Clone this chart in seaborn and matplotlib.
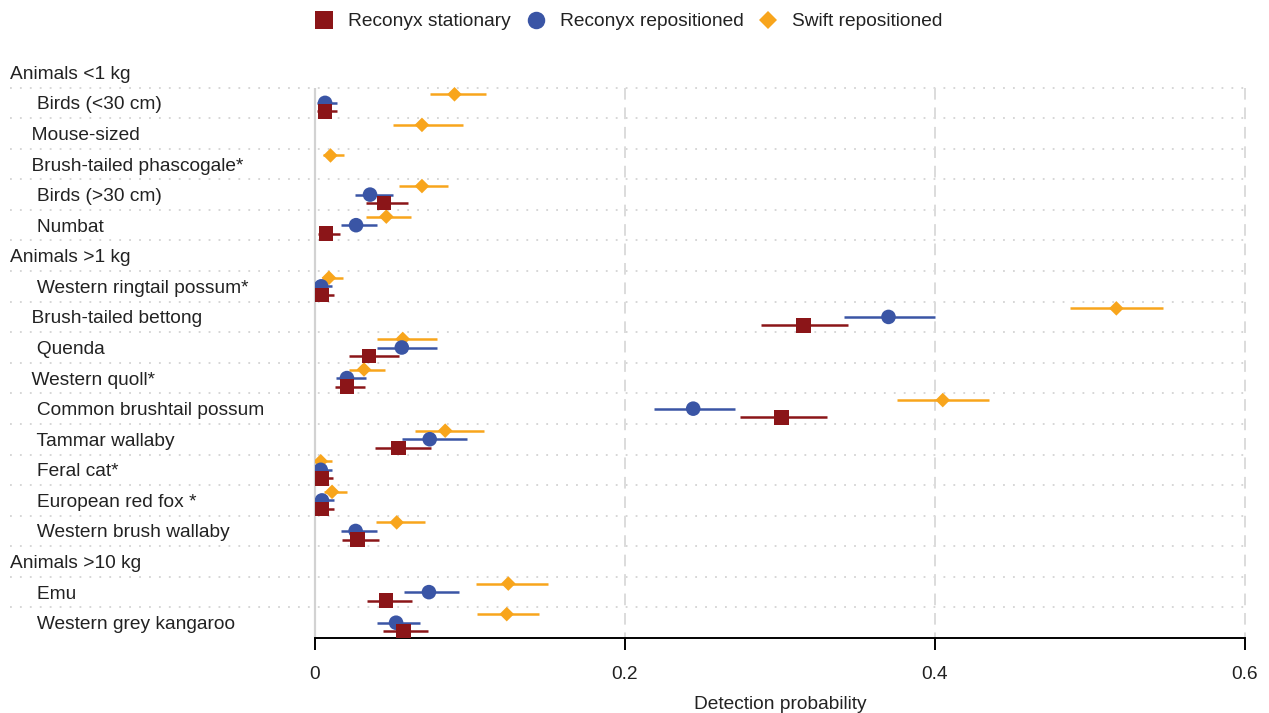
import numpy as np
import pandas as pd
import matplotlib
matplotlib.use("Agg")
import matplotlib.pyplot as plt
import seaborn as sns

# ---------------- data ----------------
row_labels = [
    "Animals <1 kg",
    "     Birds (<30 cm)",
    "    Mouse-sized",
    "    Brush-tailed phascogale*",
    "     Birds (>30 cm)",
    "     Numbat",
    "Animals >1 kg",
    "     Western ringtail possum*",
    "    Brush-tailed bettong",
    "     Quenda",
    "    Western quoll*",
    "     Common brushtail possum",
    "     Tammar wallaby",
    "     Feral cat*",
    "     European red fox *",
    "     Western brush wallaby",
    "Animals >10 kg",
    "     Emu",
    "     Western grey kangaroo",
]
nan = np.nan
# Reconyx stationary
rs_est = [nan, 0.0065, nan, nan, 0.0445, 0.007, nan, 0.0045, 0.315, 0.0348, 0.0206, 0.301, 0.054, 0.0045, 0.0045, 0.0273, nan, 0.0458, 0.057]
rs_lo  = [nan, 0.001, nan, nan, 0.033, 0.002, nan, 0.001, 0.288, 0.022, 0.013, 0.274, 0.0387, 0.0008, 0.001, 0.0176, nan, 0.0333, 0.044]
rs_hi  = [nan, 0.014, nan, nan, 0.060, 0.016, nan, 0.012, 0.344, 0.054, 0.032, 0.330, 0.075, 0.0118, 0.012, 0.0415, nan, 0.0624, 0.073]
# Reconyx repositioned
rr_est = [nan, 0.0065, nan, nan, 0.0355, 0.0265, nan, 0.004, 0.370, 0.056, 0.0206, 0.244, 0.074, 0.0037, 0.0045, 0.0262, nan, 0.0735, 0.0523]
rr_lo  = [nan, 0.001, nan, nan, 0.026, 0.017, nan, 0.001, 0.341, 0.040, 0.0134, 0.219, 0.056, 0.0008, 0.001, 0.0166, nan, 0.0576, 0.040]
rr_hi  = [nan, 0.014, nan, nan, 0.050, 0.040, nan, 0.011, 0.400, 0.079, 0.0327, 0.271, 0.098, 0.011, 0.012, 0.040, nan, 0.093, 0.0677]
# Swift repositioned
sw_est = [nan, 0.090, 0.069, 0.010, 0.069, 0.046, nan, 0.009, 0.517, 0.0566, 0.0316, 0.405, 0.084, 0.0037, 0.011, 0.0527, nan, 0.1247, 0.1237]
sw_lo  = [nan, 0.074, 0.050, 0.005, 0.054, 0.033, nan, 0.0045, 0.487, 0.040, 0.022, 0.3755, 0.0645, 0.0005, 0.006, 0.0394, nan, 0.104, 0.1047]
sw_hi  = [nan, 0.110, 0.0955, 0.019, 0.086, 0.062, nan, 0.018, 0.547, 0.079, 0.045, 0.435, 0.109, 0.011, 0.0204, 0.071, nan, 0.150, 0.1447]

series_names = ["Reconyx stationary", "Reconyx repositioned", "Swift repositioned"]
x_ticks = [0, 0.2, 0.4, 0.6]
x_ticklabels = ["0", "0.2", "0.4", "0.6"]

# ---------------- style ----------------
colors = {"Reconyx stationary": "#8B1518", "Reconyx repositioned": "#3A55A5", "Swift repositioned": "#F8A51C"}
markers = {"Reconyx stationary": "s", "Reconyx repositioned": "o", "Swift repositioned": "D"}
sizes = {"Reconyx stationary": 110, "Reconyx repositioned": 110, "Swift repositioned": 55}
offsets = {"Reconyx stationary": 0.28, "Reconyx repositioned": 0.0, "Swift repositioned": -0.28}

sns.set_theme(style="white")
plt.rcParams["font.family"] = ["Liberation Sans", "DejaVu Sans"]
text_color = "#222222"
fs = 13.8

# long table (draw order: swift, blue, red)
frames = []
for name, est, lo, hi in [("Swift repositioned", sw_est, sw_lo, sw_hi),
                          ("Reconyx repositioned", rr_est, rr_lo, rr_hi),
                          ("Reconyx stationary", rs_est, rs_lo, rs_hi)]:
    d = pd.DataFrame({"row": np.arange(len(row_labels)), "est": est, "lo": lo, "hi": hi})
    d["series"] = name
    d = d.dropna()
    d["y"] = d["row"] + offsets[name]
    frames.append(d)
df = pd.concat(frames, ignore_index=True)

fig = plt.figure(figsize=(12.69, 7.13), dpi=100)
ax = fig.add_axes([315 / 1269, 1 - 638 / 713, 930 / 1269, 581 / 713])

n = len(row_labels)
# dotted row separators (extend into label area)
ax.hlines(np.arange(0.5, n - 1, 1.0), -0.328, 1.0, transform=ax.get_yaxis_transform(),
          colors="#d3d3d3", linestyles=(0, (1, 4.5)), lw=1.3, clip_on=False, zorder=0)
# vertical reference lines
ax.vlines([0], 0.5, n - 0.5, colors="#d2d2d2", lw=1.6, zorder=0.5, clip_on=False)
ax.vlines(x_ticks[1:], 0.5, n - 0.5, colors="#dcdcdc", lw=1.4, linestyles=(0, (6, 4)),
          zorder=0.5, clip_on=False)

# error bars
for name in ["Swift repositioned", "Reconyx repositioned", "Reconyx stationary"]:
    d = df[df["series"] == name]
    ax.hlines(d["y"], d["lo"], d["hi"], colors=colors[name], lw=1.8, zorder=2)

sns.scatterplot(data=df, x="est", y="y", hue="series", style="series", size="series",
                hue_order=series_names, style_order=series_names, size_order=series_names,
                palette=colors, markers=markers, sizes=sizes, linewidth=0,
                ax=ax, zorder=3, legend=True)

ax.set_xlim(0, 0.6)
ax.set_ylim(n - 0.5, -0.5)
ax.set_yticks([])
ax.set_ylabel("")
ax.set_xticks(x_ticks)
ax.set_xticklabels(x_ticklabels)
ax.tick_params(axis="x", direction="out", length=8.5, width=1.4, color="black",
               pad=12, labelsize=fs, labelcolor=text_color, bottom=True)
ax.set_xlabel("Detection probability", fontsize=fs, color=text_color, labelpad=9)
for s in ["top", "right", "left"]:
    ax.spines[s].set_visible(False)
ax.spines["bottom"].set_color("black")
ax.spines["bottom"].set_linewidth(1.4)
ax.grid(False)

# row labels
for i, lab in enumerate(row_labels):
    ax.text(-0.328, i, lab, transform=ax.get_yaxis_transform(), ha="left",
            va="center_baseline", fontsize=fs, color=text_color)

sns.move_legend(ax, "center", bbox_to_anchor=(0.332, 1.061), ncol=3, title=None,
                frameon=False, fontsize=fs, handletextpad=0.25, columnspacing=0.3,
                markerscale=1.2)
for t in ax.get_legend().get_texts():
    t.set_color(text_color)

fig.savefig("out.png", dpi=100)
